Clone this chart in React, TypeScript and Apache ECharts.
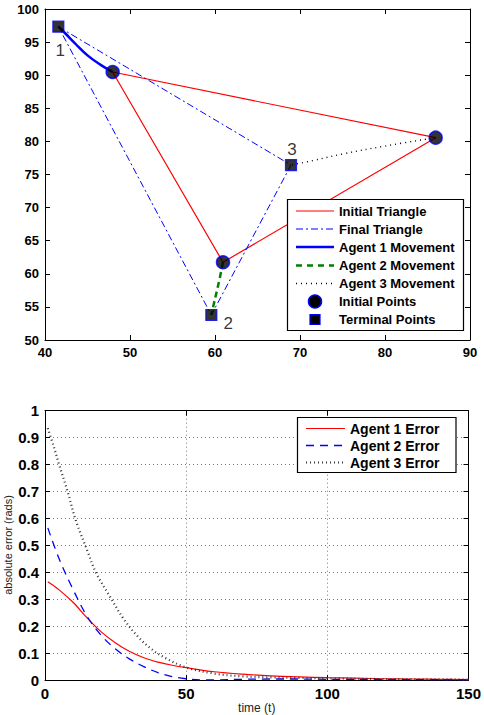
import React, { useEffect, useRef } from "react";
import * as echarts from "echarts";

// ---------- Top chart data ----------
const initialTriangle = [
  [47.96, 90.48],
  [85.96, 80.56],
  [60.94, 61.74],
  [47.96, 90.48],
];
const finalTriangle = [
  [41.57, 97.33],
  [68.94, 76.43],
  [59.57, 53.78],
  [41.57, 97.33],
];
const agent1Path = [
  [47.96, 90.48],
  [46.5, 91.6],
  [45.0, 93.0],
  [43.5, 94.85],
  [42.4, 96.3],
  [41.57, 97.33],
];
const agent2Path = [
  [60.94, 61.74],
  [60.6, 59.6],
  [60.2, 57.3],
  [59.85, 55.4],
  [59.57, 53.78],
];
const agent3Path = [
  [85.96, 80.56],
  [80.0, 79.3],
  [75.0, 78.1],
  [71.5, 77.1],
  [68.94, 76.43],
];
const initialPoints = [
  [47.96, 90.48],
  [60.94, 61.74],
  [85.96, 80.56],
];
const terminalPoints = [
  [41.57, 97.33],
  [59.57, 53.78],
  [68.94, 76.43],
];
const terminalLabels = ["1", "2", "3"];
const terminalLabelOffsets = [
  [2, 24],
  [17, 9],
  [1, -16],
];

// ---------- Bottom chart data ----------
const time1 = [1, 5, 10, 15, 20, 25, 30, 35, 40, 45, 50, 60, 70, 80, 90, 100, 110, 120, 130, 140, 150];
const error1 = [0.365, 0.335, 0.288, 0.23, 0.178, 0.138, 0.106, 0.083, 0.067, 0.055, 0.046, 0.031, 0.022, 0.016, 0.012, 0.009, 0.007, 0.005, 0.004, 0.003, 0.002];
const time2 = [1, 5, 10, 15, 20, 25, 30, 35, 40, 45, 50, 55, 60, 70, 80, 90, 100, 120, 150];
const error2 = [0.565, 0.45, 0.335, 0.235, 0.165, 0.115, 0.078, 0.05, 0.028, 0.013, 0.005, 0.001, 0.001, 0.003, 0.004, 0.004, 0.003, 0.002, 0.001];
const time3 = [1, 3, 5, 8, 11, 15, 18, 23, 28, 33, 38, 43, 50, 60, 70, 80, 90, 100, 120, 150];
const error3 = [0.935, 0.87, 0.8, 0.7, 0.59, 0.48, 0.4, 0.31, 0.225, 0.16, 0.113, 0.08, 0.047, 0.024, 0.014, 0.01, 0.008, 0.006, 0.004, 0.002];

const xRangeTop = { min: 40, max: 90, interval: 10 };
const yRangeTop = { min: 50, max: 100, interval: 5 };
const xRangeBottom = { min: 0, max: 150, interval: 50 };
const yRangeBottom = { min: 0, max: 1, interval: 0.1 };

const yNameBottom = "absolute error (rads)";
const xNameBottom = "time (t)";

const FONT = 'Arial, "Liberation Sans", Helvetica, sans-serif';

function zip(t: number[], v: number[]) {
  return t.map((x, i) => [x, v[i]]);
}

export default function App() {
  const ref = useRef<HTMLDivElement>(null);

  useEffect(() => {
    if (!ref.current) return;
    const chart = echarts.init(ref.current, undefined, { renderer: "svg" });

    const frameAxis = (
      gridIndex: number,
      range: { min: number; max: number; interval: number },
      position: string,
      showLabel: boolean,
      fontSize: number,
      grid: boolean,
      extra: any = {}
    ) => ({
      type: "value",
      gridIndex,
      position,
      min: range.min,
      max: range.max,
      interval: range.interval,
      axisLine: { show: true, onZero: false, lineStyle: { color: "#000", width: 1 } },
      axisTick: { show: true, inside: true, length: 5, lineStyle: { color: "#000" } },
      axisLabel: {
        show: showLabel,
        color: "#000",
        fontWeight: "bold",
        fontSize,
        fontFamily: FONT,
        margin: 6,
      },
      splitLine: {
        show: grid,
        lineStyle: { color: "#777", type: [1, 3], width: 1 },
      },
      ...extra,
    });

    const legendLine = (x1: number, x2: number, y: number, color: string, width: number, dash: any) => ({
      type: "line",
      z: 101,
      shape: { x1, y1: y, x2, y2: y },
      style: { stroke: color, lineWidth: width, lineDash: dash },
    });
    const legendText = (x: number, y: number, text: string, size: number) => ({
      type: "text",
      z: 101,
      x,
      y,
      style: {
        text,
        fill: "#000",
        font: `bold ${size}px ${FONT}`,
        verticalAlign: "middle",
        align: "left",
      },
    });

    const topRows = [211, 229, 247, 265.5, 283.5, 301.5, 319.5];
    const botRows = [428.5, 445.5, 462.5];

    const option: any = {
      animation: false,
      backgroundColor: "#fff",
      grid: [
        { left: 45, top: 9, width: 425, height: 331 },
        { left: 45, top: 410.7, width: 425, height: 270.3 },
      ],
      xAxis: [
        frameAxis(0, xRangeTop, "bottom", true, 13, false),
        frameAxis(0, xRangeTop, "top", false, 13, false),
        frameAxis(1, xRangeBottom, "bottom", true, 15, true, {
          name: xNameBottom,
          nameLocation: "middle",
          nameGap: 17,
          nameTextStyle: { fontSize: 12, color: "#222", fontFamily: FONT, verticalAlign: "top" },
        }),
        frameAxis(1, xRangeBottom, "top", false, 15, false),
      ],
      yAxis: [
        frameAxis(0, yRangeTop, "left", true, 13, false),
        frameAxis(0, yRangeTop, "right", false, 13, false),
        frameAxis(1, yRangeBottom, "left", true, 15, true),
        frameAxis(1, yRangeBottom, "right", false, 15, false),
      ],
      series: [
        {
          name: "Initial Triangle",
          type: "line",
          xAxisIndex: 0,
          yAxisIndex: 0,
          data: initialTriangle,
          symbol: "none",
          z: 2,
          lineStyle: { color: "#ff0000", width: 1.2 },
        },
        {
          name: "Final Triangle",
          type: "line",
          xAxisIndex: 0,
          yAxisIndex: 0,
          data: finalTriangle,
          symbol: "none",
          z: 2,
          lineStyle: { color: "#0000ff", width: 1, type: [7, 3, 2, 3] },
        },
        {
          name: "Agent 1 Movement",
          type: "line",
          xAxisIndex: 0,
          yAxisIndex: 0,
          data: agent1Path,
          symbol: "none",
          smooth: 0.4,
          z: 3,
          lineStyle: { color: "#0000ff", width: 2.5 },
        },
        {
          name: "Agent 2 Movement",
          type: "line",
          xAxisIndex: 0,
          yAxisIndex: 0,
          data: agent2Path,
          symbol: "none",
          smooth: 0.4,
          z: 3,
          lineStyle: { color: "#008000", width: 2.5, type: [6, 4] },
        },
        {
          name: "Agent 3 Movement",
          type: "line",
          xAxisIndex: 0,
          yAxisIndex: 0,
          data: agent3Path,
          symbol: "none",
          smooth: 0.4,
          z: 3,
          lineStyle: { color: "#000", width: 1.4, type: [1, 4] },
        },
        {
          name: "Initial Points",
          type: "scatter",
          xAxisIndex: 0,
          yAxisIndex: 0,
          data: initialPoints,
          symbol: "circle",
          symbolSize: 13,
          z: 5,
          itemStyle: { color: "#000", borderColor: "#0000ff", borderWidth: 1.5 },
        },
        {
          name: "Terminal Points",
          type: "scatter",
          xAxisIndex: 0,
          yAxisIndex: 0,
          data: terminalPoints.map((p, i) => ({
            value: p,
            label: { offset: terminalLabelOffsets[i] },
          })),
          symbol: "rect",
          symbolSize: 11,
          z: 5,
          itemStyle: { color: "#000", borderColor: "#0000ff", borderWidth: 1.2 },
          label: {
            show: true,
            position: "inside",
            formatter: (p: any) => terminalLabels[p.dataIndex],
            color: "#000",
            fontSize: 17,
            fontFamily: FONT,
            fontWeight: "normal",
            textBorderWidth: 0,
            textBorderColor: "transparent",
          },
        },
        {
          name: "Agent 1 Error",
          type: "line",
          xAxisIndex: 2,
          yAxisIndex: 2,
          data: zip(time1, error1),
          symbol: "none",
          smooth: 0.35,
          z: 3,
          lineStyle: { color: "#ff0000", width: 1.2 },
        },
        {
          name: "Agent 2 Error",
          type: "line",
          xAxisIndex: 2,
          yAxisIndex: 2,
          data: zip(time2, error2),
          symbol: "none",
          smooth: 0.35,
          z: 3,
          lineStyle: { color: "#0000ff", width: 1.3, type: [8, 6] },
        },
        {
          name: "Agent 3 Error",
          type: "line",
          xAxisIndex: 2,
          yAxisIndex: 2,
          data: zip(time3, error3),
          symbol: "none",
          smooth: 0.35,
          z: 3,
          lineStyle: { color: "#333", width: 2.2, type: [1, 3] },
        },
      ],
      graphic: [
        // y axis title of bottom chart
        {
          type: "text",
          x: 8,
          y: 545,
          rotation: Math.PI / 2,
          style: {
            text: yNameBottom,
            fill: "#222",
            font: `11px ${FONT}`,
            align: "center",
            verticalAlign: "middle",
          },
        },
        // top legend
        {
          type: "rect",
          z: 100,
          shape: { x: 287.5, y: 199.5, width: 176, height: 131 },
          style: { fill: "#fff", stroke: "#000", lineWidth: 1.2 },
        },
        legendLine(296, 334, topRows[0], "#ff0000", 1.2, null),
        legendText(339, topRows[0], "Initial Triangle", 13),
        legendLine(296, 334, topRows[1], "#0000ff", 1, [7, 3, 2, 3]),
        legendText(339, topRows[1], "Final Triangle", 13),
        legendLine(296, 334, topRows[2], "#0000ff", 2.5, null),
        legendText(339, topRows[2], "Agent 1 Movement", 13),
        legendLine(296, 334, topRows[3], "#008000", 2.5, [6, 5]),
        legendText(339, topRows[3], "Agent 2 Movement", 13),
        legendLine(296, 334, topRows[4], "#000", 1.4, [1, 4]),
        legendText(339, topRows[4], "Agent 3 Movement", 13),
        {
          type: "circle",
          z: 101,
          shape: { cx: 315, cy: topRows[5], r: 6.5 },
          style: { fill: "#000", stroke: "#0000ff", lineWidth: 1.5 },
        },
        legendText(339, topRows[5], "Initial Points", 13),
        {
          type: "rect",
          z: 101,
          shape: { x: 310, y: topRows[6] - 5, width: 10, height: 10 },
          style: { fill: "#000", stroke: "#0000ff", lineWidth: 1.2 },
        },
        legendText(339, topRows[6], "Terminal Points", 13),
        // bottom legend
        {
          type: "rect",
          z: 100,
          shape: { x: 297.5, y: 417.5, width: 158.5, height: 55 },
          style: { fill: "#fff", stroke: "#000", lineWidth: 1.2 },
        },
        legendLine(306, 345, botRows[0], "#ff0000", 1.2, null),
        legendText(350, botRows[0], "Agent 1 Error", 14),
        legendLine(306, 345, botRows[1], "#0000ff", 1.3, [8, 6]),
        legendText(350, botRows[1], "Agent 2 Error", 14),
        legendLine(306, 345, botRows[2], "#333", 2.2, [1, 3]),
        legendText(350, botRows[2], "Agent 3 Error", 14),
      ],
    };

    chart.setOption(option);
    return () => chart.dispose();
  }, []);

  return (
    <div
      ref={ref}
      style={{ position: "fixed", left: 0, top: 0, width: 484, height: 715, background: "#fff" }}
    />
  );
}
